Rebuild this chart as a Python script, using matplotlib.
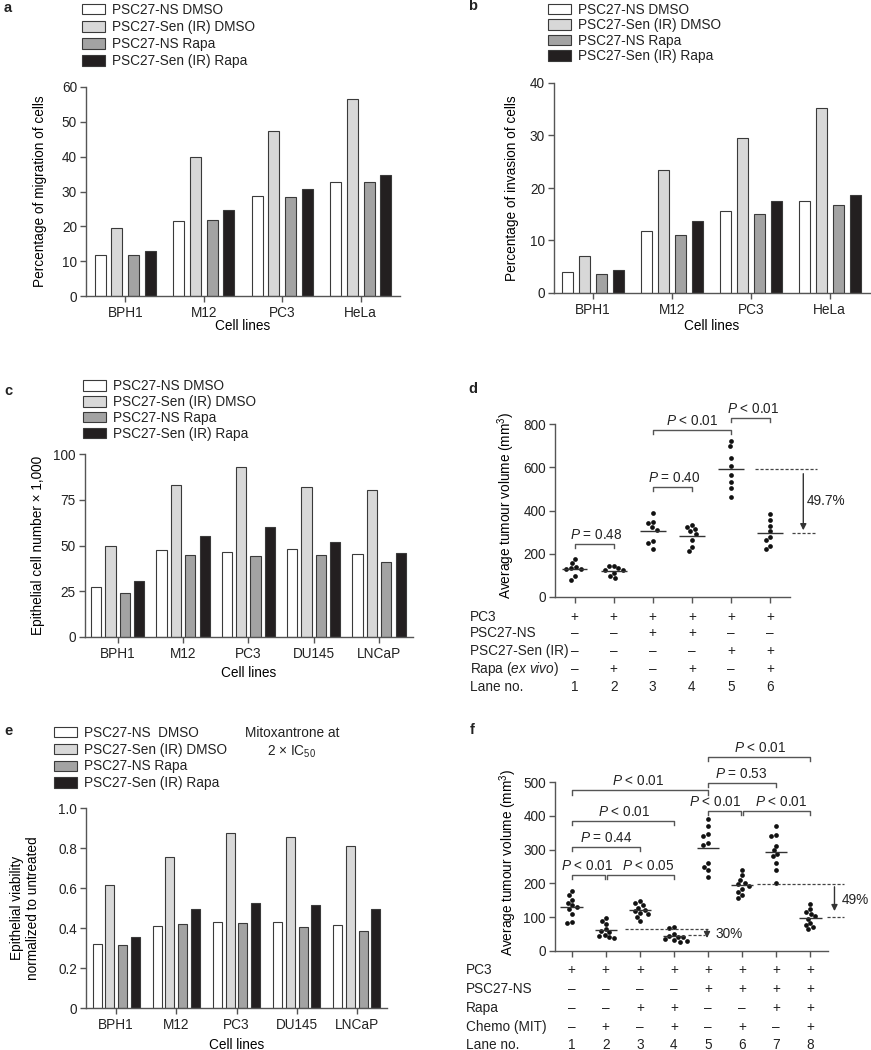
import matplotlib
matplotlib.use("Agg")
import matplotlib.pyplot as plt
import matplotlib.transforms as mtransforms
import numpy as np

plt.rcParams['font.family'] = ['Liberation Sans', 'DejaVu Sans']
plt.rcParams['mathtext.fontset'] = 'custom'
plt.rcParams['mathtext.rm'] = 'Liberation Sans'
plt.rcParams['mathtext.it'] = 'Liberation Sans:italic'
plt.rcParams['font.size'] = 9.8
plt.rcParams['text.color'] = '#222222'

# ---------------- data ----------------
series_names = ["PSC27-NS DMSO", "PSC27-Sen (IR) DMSO", "PSC27-NS Rapa", "PSC27-Sen (IR) Rapa"]
series_names_e = ["PSC27-NS  DMSO", "PSC27-Sen (IR) DMSO", "PSC27-NS Rapa", "PSC27-Sen (IR) Rapa"]
bar_colors = ["#ffffff", "#d8d8d8", "#a3a3a3", "#231f20"]

lines_ab = ["BPH1", "M12", "PC3", "HeLa"]
lines_ce = ["BPH1", "M12", "PC3", "DU145", "LNCaP"]

# panel a: migration (%)
mig = [[11.7, 21.6, 28.8, 32.6],
       [19.6, 40.0, 47.5, 56.5],
       [11.7, 21.9, 28.5, 32.8],
       [12.9, 24.8, 30.8, 34.8]]
# panel b: invasion (%)
inv = [[4.0, 11.8, 15.6, 17.6],
       [7.0, 23.5, 29.5, 35.3],
       [3.6, 11.0, 15.1, 16.8],
       [4.4, 13.8, 17.6, 18.6]]
# panel c: epithelial cell number x 1000
cellnum = [[27.3, 47.7, 46.3, 48.1, 45.2],
           [49.5, 83.1, 92.7, 81.8, 80.3],
           [24.0, 44.8, 44.3, 44.8, 41.0],
           [30.6, 55.2, 60.3, 51.9, 46.1]]
# panel e: viability normalized to untreated
viab = [[0.32, 0.41, 0.43, 0.43, 0.415],
        [0.615, 0.755, 0.875, 0.855, 0.81],
        [0.317, 0.42, 0.425, 0.407, 0.386],
        [0.356, 0.494, 0.524, 0.514, 0.494]]

# panel d: tumour volumes per lane (mm3)
d_lanes = [
    [176, 155, 140, 133, 130, 128, 98, 80],
    [145, 142, 136, 127, 124, 113, 96, 87],
    [389, 345, 340, 322, 310, 258, 248, 222],
    [333, 325, 315, 305, 292, 262, 230, 212],
    [722, 699, 642, 608, 565, 534, 503, 464],
    [383, 354, 329, 306, 277, 263, 237, 224],
]
d_rows = ["PC3", "PSC27-NS", "PSC27-Sen (IR)", "Rapa ($ex$ $vivo$)"]
d_signs = ["++++++", "--++--", "----++", "-+-+-+"]
d_brackets = [(1, 2, 243, 1.56, "$P$ = 0.48"),
              (3, 4, 509, 3.54, "$P$ = 0.40"),
              (3, 5, 774, 4.0, "$P$ < 0.01"),
              (5, 6, 828, 5.57, "$P$ < 0.01")]

# panel f: tumour volumes per lane (mm3)
f_lanes = [
    [178, 165, 152, 143, 135, 130, 123, 108, 85, 82],
    [98, 90, 80, 65, 58, 55, 48, 45, 40, 38],
    [147, 142, 135, 128, 122, 118, 113, 110, 102, 90],
    [70, 68, 50, 45, 42, 40, 36, 33, 30, 28],
    [390, 370, 345, 340, 320, 315, 260, 250, 240, 220],
    [239, 224, 210, 202, 198, 193, 183, 174, 165, 158],
    [369, 344, 339, 311, 298, 288, 281, 261, 239, 200],
    [140, 124, 115, 109, 103, 96, 82, 77, 70, 65],
]
f_rows = ["PC3", "PSC27-NS", "Rapa", "Chemo (MIT)"]
f_signs = ["++++++++", "----++++", "--++--++", "-+-+-+-+"]
f_brackets = [(1, 1.965, 225, 1.46, "$P$ < 0.01"),
              (2.035, 4, 225, 3.25, "$P$ < 0.05"),
              (1, 3, 308, 2.03, "$P$ = 0.44"),
              (1, 4, 384, 2.53, "$P$ < 0.01"),
              (1, 5, 475, 2.95, "$P$ < 0.01"),
              (5, 5.965, 414, 5.21, "$P$ < 0.01"),
              (6.035, 8, 414, 7.14, "$P$ < 0.01"),
              (5, 7, 497, 5.99, "$P$ = 0.53"),
              (5, 8, 574, 6.52, "$P$ < 0.01")]

# ---------------- layout ----------------
W, H = 871, 1050
fig = plt.figure(figsize=(W / 100, H / 100), dpi=100)


def rect(l, r, t, b):
    return [l / W, 1 - b / H, (r - l) / W, (b - t) / H]


AX_COL = '#555555'


def style(ax):
    for s in ['top', 'right']:
        ax.spines[s].set_visible(False)
    for s in ['left', 'bottom']:
        ax.spines[s].set_color(AX_COL)
        ax.spines[s].set_linewidth(1.0)
    ax.tick_params(axis='y', direction='out', length=4.5, width=1, color=AX_COL, pad=2, labelsize=9.8,
                   labelcolor='#222222')
    ax.tick_params(axis='x', direction='out', length=4, width=1, color=AX_COL, pad=3, labelsize=9.8,
                   labelcolor='#222222')


def bar_panel(ax, cats, vals, names, pitch, width, xlim, ylim, yticks, ylabel, ylab_x, xlab_y,
              leg_left, leg_top, leg_sp, yticklabels=None):
    x = np.arange(len(cats))
    for i in range(4):
        ax.bar(x + (i - 1.5) * pitch, vals[i], width, color=bar_colors[i], edgecolor='#3a3a3a',
               linewidth=0.8, label=names[i])
    ax.set_xlim(*xlim)
    ax.set_ylim(*ylim)
    ax.set_xticks(x)
    ax.set_xticklabels(cats)
    ax.set_yticks(yticks)
    if yticklabels is not None:
        ax.set_yticklabels(yticklabels)
    style(ax)
    ax.set_ylabel(ylabel, va='center', ha='center', multialignment='center')
    ax.yaxis.set_label_coords(ylab_x, 0.5)
    ax.set_xlabel("Cell lines", va='center')
    ax.xaxis.set_label_coords(0.5, xlab_y)
    ax.legend(loc='upper left', bbox_to_anchor=(leg_left / W, 1 - leg_top / H),
              bbox_transform=fig.transFigure, frameon=False, borderpad=0, borderaxespad=0,
              handlelength=1.7, handleheight=0.8, handletextpad=0.5, labelspacing=leg_sp,
              fontsize=9.8)


ax_a = fig.add_axes(rect(86, 400, 87, 296))
bar_panel(ax_a, lines_ab, mig, series_names, 0.214, 0.14, (-0.5, 3.5), (0, 60), range(0, 61, 10),
          "Percentage of migration of cells", -0.1465, -0.1435, 82, 3, 0.23)

ax_b = fig.add_axes(rect(554, 870, 83, 293))
bar_panel(ax_b, lines_ab, inv, series_names, 0.214, 0.14, (-0.49, 3.51), (0, 40), range(0, 41, 10),
          "Percentage of invasion of cells", -0.134, -0.157, 548, 2.7, 0.11)

ax_c = fig.add_axes(rect(85, 413, 454, 637))
bar_panel(ax_c, lines_ce, cellnum, series_names, 0.22, 0.155, (-0.5, 4.52), (0, 100), range(0, 101, 25),
          "Epithelial cell number \u00d7 1,000", -0.143, -0.197, 83, 379.3, 0.13)

ax_e = fig.add_axes(rect(86, 387, 808, 1008))
bar_panel(ax_e, lines_ce, viab, series_names_e, 0.21, 0.15, (-0.5, 4.5), (0, 1.0),
          [0, 0.2, 0.4, 0.6, 0.8, 1.0], "Epithelial viability\nnormalized to untreated", -0.203, -0.185,
          54, 726, 0.2, yticklabels=["0", "0.2", "0.4", "0.6", "0.8", "1.0"])
fig.text(292 / W, 1 - 733 / H, "Mitoxantrone at", ha='center', va='center')
fig.text(292 / W, 1 - 752 / H, "2 \u00d7 IC$_{50}$", ha='center', va='center')


def swarm(ax, lane, vals, gap=5.0):
    vals = np.asarray(vals, float)
    tr = ax.transData
    px = tr.transform(np.column_stack([np.full(len(vals), lane), vals]))
    cx = px[0, 0]
    placed = []
    xs = np.empty(len(vals))
    for i in np.argsort(-vals):
        y = px[i, 1]
        cands = [0.0]
        blocks = []
        for bx, by in placed:
            dy = abs(by - y)
            if dy < gap:
                w = np.sqrt(gap ** 2 - dy ** 2)
                blocks.append((bx - w, bx + w))
                cands += [bx - w, bx + w]
        ok = [c for c in cands if all(not (lo + 1e-6 < c < hi - 1e-6) for lo, hi in blocks)]
        best = min(ok, key=abs)
        placed.append((best, y))
        xs[i] = tr.inverted().transform((cx + best, y))[0]
    return xs


def dot_panel(ax, lanes, xlim, ylim, yticks, ylab_x, ylab_y, brackets, leg, rows, signs, row_y, row_x):
    ax.set_xlim(*xlim)
    ax.set_ylim(*ylim)
    n = len(lanes)
    ax.set_xticks(range(1, n + 1))
    ax.set_xticklabels([])
    ax.set_yticks(yticks)
    style(ax)
    for k, vals in enumerate(lanes, start=1):
        xs = swarm(ax, k, vals)
        ax.plot(xs, vals, 'o', ms=3.4, color='#111111', mec='none', clip_on=False)
        ax.hlines(np.mean(vals), k - 0.33, k + 0.33, color='#333333', lw=1)
    for x1, x2, y, tx, txt in brackets:
        ax.plot([x1, x1, x2, x2], [y - leg, y, y, y - leg], color='#555555', lw=1, clip_on=False)
        ax.annotate(txt, (tx, y), xytext=(0, 1.5), textcoords='offset points', ha='center', va='bottom',
                    annotation_clip=False)
    ax.set_ylabel("Average tumour volume (mm$^{3}$)", va='center', ha='center')
    ax.yaxis.set_label_coords(ylab_x, ylab_y)
    trans = mtransforms.blended_transform_factory(ax.transData, fig.transFigure)
    for r, (name, s) in enumerate(zip(rows, signs)):
        fig.text(row_x / W, 1 - row_y[r] / H, name, ha='left', va='center')
        for k, ch in enumerate(s, start=1):
            ax.text(k, 1 - row_y[r] / H, "+" if ch == "+" else "\u2013", transform=trans,
                    ha='center', va='center')
    fig.text(row_x / W, 1 - row_y[-1] / H, "Lane no.", ha='left', va='center')
    for k in range(1, n + 1):
        ax.text(k, 1 - row_y[-1] / H, str(k), transform=trans, ha='center', va='center')


ARW = dict(arrowstyle='-|>', color='#333333', lw=1, mutation_scale=9, shrinkA=0, shrinkB=0)

ax_d = fig.add_axes(rect(555, 790, 424, 597))
dot_panel(ax_d, d_lanes, (0.5, 6.51), (0, 800), range(0, 801, 200), -0.2085, 0.532, d_brackets, 18,
          d_rows, d_signs, [617.3, 633.3, 651, 669, 686.7], 470)
m5, m6 = np.mean(d_lanes[4]), np.mean(d_lanes[5])
ax_d.hlines(m5, 5.61, 7.2, color='#444444', lw=0.9, linestyles=(0, (2.5, 1.5)), clip_on=False)
ax_d.hlines(m6, 6.55, 7.15, color='#444444', lw=0.9, linestyles=(0, (2.5, 1.5)), clip_on=False)
ax_d.annotate('', xy=(6.85, m6 + 12), xytext=(6.85, m5 - 22), arrowprops=ARW, annotation_clip=False)
ax_d.text(6.93, 446, "49.7%", ha='left', va='center')

ax_f = fig.add_axes(rect(555, 828, 782, 951))
dot_panel(ax_f, f_lanes, (0.51, 8.52), (0, 500), range(0, 501, 100), -0.172, 0.527, f_brackets, 12,
          f_rows, f_signs, [970, 989.3, 1007.7, 1026.7, 1045], 466)
m2, m4 = np.mean(f_lanes[1]), np.mean(f_lanes[3])
m6f, m8 = np.mean(f_lanes[5]), np.mean(f_lanes[7])
ax_f.hlines(m2 + 2, 2.57, 5.0, color='#444444', lw=0.9, linestyles=(0, (2.5, 1.5)), clip_on=False)
ax_f.hlines(m4 + 4, 4.4, 4.9, color='#444444', lw=0.9, linestyles=(0, (2.5, 1.5)), clip_on=False)
ax_f.annotate('', xy=(4.97, m4 - 6), xytext=(4.97, m2 + 2), arrowprops=ARW, annotation_clip=False)
ax_f.text(5.22, 50, "30%", ha='left', va='center')
ax_f.hlines(m6f + 4, 6.45, 9.0, color='#444444', lw=0.9, linestyles=(0, (2.5, 1.5)), clip_on=False)
ax_f.hlines(m8 + 2, 8.48, 9.0, color='#444444', lw=0.9, linestyles=(0, (2.5, 1.5)), clip_on=False)
ax_f.annotate('', xy=(8.71, 118), xytext=(8.71, 190), arrowprops=ARW, annotation_clip=False)
ax_f.text(8.92, 150, "49%", ha='left', va='center')

# panel letters
for lab, x, y in [("a", 4, 7.5), ("b", 468, 6), ("c", 4, 391), ("d", 468, 389), ("e", 4, 731), ("f", 470, 730)]:
    fig.text(x / W, 1 - y / H, lab, ha='left', va='center', fontweight='bold', fontsize=10.5)

fig.savefig("out.png", dpi=100)
